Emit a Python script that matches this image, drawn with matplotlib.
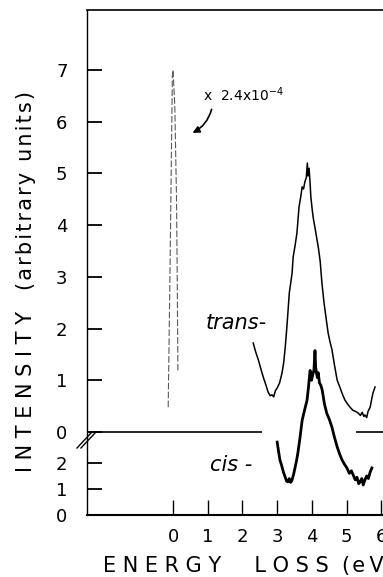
import matplotlib
matplotlib.use("Agg")
import matplotlib.pyplot as plt
from matplotlib.lines import Line2D

# --- dados ---
# pico elástico (já multiplicado por 2.4e-4), escala superior
energia_elastico = [-0.14, -0.09, -0.02, 0.0, 0.05, 0.10, 0.12, 0.14]
int_elastico = [0.48, 3.0, 6.9, 7.0, 6.3, 4.5, 3.0, 1.16]

# trans- (escala superior)
energia_trans = [2.31, 2.38, 2.46, 2.53, 2.60, 2.67, 2.74, 2.80, 2.85, 2.90,
                 2.95, 3.00, 3.07, 3.14, 3.19, 3.23, 3.28, 3.35, 3.43, 3.46,
                 3.52, 3.57, 3.63, 3.68, 3.72, 3.76, 3.80, 3.84, 3.87, 3.89,
                 3.92, 3.95, 3.97, 4.01, 4.04, 4.09, 4.14, 4.19, 4.24, 4.29,
                 4.35, 4.41, 4.47, 4.52, 4.58, 4.65, 4.73, 4.80, 4.87, 4.95,
                 5.02, 5.10, 5.18, 5.25, 5.33, 5.40, 5.45, 5.50, 5.53, 5.58,
                 5.62, 5.68, 5.72, 5.76, 5.82]
int_trans = [1.72, 1.55, 1.39, 1.22, 1.06, 0.92, 0.77, 0.70, 0.72, 0.68,
             0.80, 0.85, 0.95, 1.14, 1.35, 1.62, 2.03, 2.69, 3.07, 3.38,
             3.62, 3.85, 4.35, 4.55, 4.74, 4.70, 4.84, 4.92, 5.20, 4.95,
             5.10, 4.80, 4.55, 4.30, 4.14, 3.95, 3.75, 3.55, 3.30, 2.88,
             2.50, 2.20, 1.91, 1.75, 1.59, 1.30, 1.00, 0.88, 0.75, 0.62,
             0.55, 0.48, 0.42, 0.40, 0.37, 0.32, 0.38, 0.30, 0.33, 0.28,
             0.40, 0.48, 0.62, 0.75, 0.87]

# cis- (escala inferior)
energia_cis = [3.00, 3.04, 3.08, 3.13, 3.18, 3.23, 3.27, 3.31, 3.35, 3.39,
               3.43, 3.48, 3.52, 3.56, 3.60, 3.66, 3.72, 3.79, 3.86, 3.90,
               3.92, 3.95, 3.99, 4.02, 4.06, 4.09, 4.11, 4.13, 4.16, 4.18,
               4.22, 4.26, 4.30, 4.36, 4.43, 4.50, 4.58, 4.65, 4.73, 4.80,
               4.87, 4.94, 5.01, 5.08, 5.14, 5.19, 5.25, 5.30, 5.35, 5.39,
               5.44, 5.48, 5.53, 5.58, 5.63, 5.68, 5.73]
int_cis = [2.81, 2.45, 2.12, 1.90, 1.65, 1.46, 1.30, 1.27, 1.40, 1.25,
           1.35, 1.60, 1.85, 2.10, 2.42, 3.00, 3.65, 4.05, 4.42, 4.90,
           5.19, 5.58, 5.20, 5.38, 5.60, 6.35, 5.70, 5.50, 5.30, 5.50,
           5.10, 5.00, 4.81, 4.30, 3.92, 3.70, 3.38, 3.00, 2.62, 2.35,
           2.12, 1.95, 1.81, 1.60, 1.70, 1.54, 1.35, 1.45, 1.20, 1.27,
           1.40, 1.15, 1.35, 1.50, 1.40, 1.65, 1.81]

ticks_sup = [0, 1, 2, 3, 4, 5, 6, 7]
ticks_inf = [0, 1, 2]
ticks_x = [0, 1, 2, 3, 4, 5, 6]
fator_texto = r"x  2.4x10$^{-4}$"

# painel inferior desenhado abaixo do superior (escala pela metade)
OFFSET_INF = -1.6
ESCALA_INF = 0.5

def para_inferior(v):
    return [OFFSET_INF + ESCALA_INF * x for x in v]

plt.rcParams['font.family'] = ['DejaVu Sans']

fig = plt.figure(figsize=(3.83, 5.77), dpi=100)
ax = fig.add_axes([87 / 383, 62 / 577, 296 / 383, 505 / 577])
ax.set_xlim(-2.48, 6.05)
ax.set_ylim(-1.605, 8.16)

# curvas
ax.plot(energia_elastico, int_elastico, color='0.35', lw=0.8,
        linestyle=(0, (6, 2)))
ax.plot(energia_trans, int_trans, color='black', lw=1.1)
ax.plot(energia_cis, para_inferior(int_cis), color='black', lw=2.0)

# linha de base do painel superior (interrompida sob as curvas)
ax.hlines(0, -2.48, 2.55, color='black', lw=1.2)
ax.hlines(0, 5.27, 6.05, color='black', lw=1.2)

# eixos
ax.spines['right'].set_visible(False)
ax.spines['top'].set_linewidth(1.2)
ax.spines['left'].set_linewidth(1.0)
ax.spines['bottom'].set_linewidth(1.5)

pos_y = ticks_sup + para_inferior(ticks_inf)
rot_y = [str(t) for t in ticks_sup] + [str(t) for t in ticks_inf]
ax.set_yticks(pos_y)
ax.set_yticklabels(rot_y)
ax.set_xticks(ticks_x)
ax.set_xticklabels([str(t) for t in ticks_x])
ax.tick_params(axis='y', direction='in', length=11, width=1.3, pad=14,
               labelsize=13)
ax.tick_params(axis='x', direction='in', length=11, width=1.0, pad=9,
               labelsize=13)

# marca de quebra do eixo
for dx in (0, 4):
    fig.add_artist(Line2D([(77 + dx) / 383, (91 + dx) / 383],
                          [1 - 448 / 577, 1 - 433 / 577],
                          color='black', lw=1.0))

# textos
ax.text(1.82, 2.10, "trans-", style='italic', fontsize=15, ha='center',
        va='center')
ax.text(1.68, -0.64, "cis -", style='italic', fontsize=15, ha='center',
        va='center')
ax.annotate("", xy=(0.49, 5.76), xytext=(1.13, 6.29),
            arrowprops=dict(arrowstyle='-|>', color='black', lw=1.2,
                            mutation_scale=10,
                            connectionstyle='arc3,rad=-0.25'))
ax.text(0.86, 6.52, fator_texto, fontsize=10, ha='left', va='center')

hs = "\u200a"
fig.text(26 / 383, 1 - 392 / 577, "I N T E N S I T Y",
         rotation=90, fontsize=15, ha='center', va='center')
fig.text(26 / 383, 1 - 191 / 577, hs.join("(arbitrary units)"),
         rotation=90, fontsize=15, ha='center', va='center')
fig.text(103 / 383, 1 - 566 / 577,
         "E N E R G Y     L O S S  (" + hs + "e" + hs * 2 + "V)",
         fontsize=15, ha='left', va='center')

fig.savefig("out.png", dpi=100)
